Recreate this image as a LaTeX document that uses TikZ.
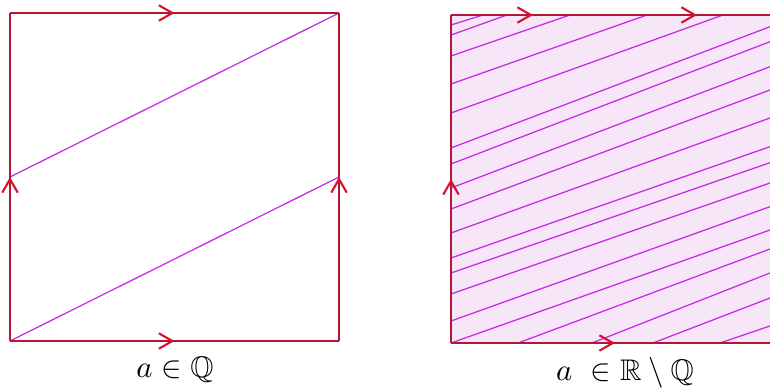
\documentclass[tikz,border=0pt]{standalone}
\usepackage{amssymb}
\usetikzlibrary{arrows.meta, decorations.markings, calc}

\definecolor{edgered}{HTML}{B01838}
\definecolor{tipred}{HTML}{D8102C}
\definecolor{flowline}{HTML}{C42EE0}
\definecolor{torusfill}{HTML}{F7E5F8}

\begin{document}
\begin{tikzpicture}[
    x=0.0125cm, y=-0.0125cm,
    edge/.style={draw=edgered, line width=0.7pt},
    flow/.style={draw=flowline, line width=0.45pt},
    barb/.style={tipred, line width=0.75pt},
    midarrow/.style={postaction={decorate}, decoration={markings,
        mark=at position 0.5 with {\arrow[barb]{Straight Barb[length=4.8pt, width=5.5pt]}}}},
    twoarrows/.style={postaction={decorate}, decoration={markings,
        mark=at position 0.25 with {\arrow[barb]{Straight Barb[length=4.8pt, width=5.5pt]}},
        mark=at position 0.75 with {\arrow[barb]{Straight Barb[length=4.8pt, width=5.5pt]}}}},
    caption/.style={anchor=base, inner sep=0pt, font=\fontsize{10.6}{13}\selectfont}
]
\useasboundingbox (0,0) rectangle (770,390);

% ---------------- rational slope ----------------
\coordinate (qsw) at (10,341);
\coordinate (qse) at (339,341);
\coordinate (qne) at (339,13);
\coordinate (qnw) at (10,13);
\coordinate (qwm) at (10,177);
\coordinate (qem) at (339,177);

\draw[flow] (qsw) -- (qem);
\draw[flow] (qwm) -- (qne);

\draw[edge, midarrow] (qsw) -- (qse);
\draw[edge, midarrow] (qnw) -- (qne);
\draw[edge, midarrow] (qsw) -- (qnw);
\draw[edge, midarrow] (qse) -- (qne);

\node[caption] (labQ) at (175,377) {$a \in \mathbb{Q}$};

% ---------------- irrational slope ----------------
\coordinate (rsw) at (451,343);
\coordinate (rse) at (779,343);
\coordinate (rne) at (779,15);
\coordinate (rnw) at (451,15);

\fill[torusfill] (rsw) rectangle (rne);

\begin{scope}
\clip (rsw) rectangle (rne);
% from the left side to the top
\foreach \ya/\xt in {25/483, 35/507, 56/570, 84/647, 113/723}
    \draw[flow] (451,\ya) -- ($(451,\ya)!1.05!(\xt,15)$);
% from the left side to the right side
\foreach \ya/\yb in {148/26.7, 164/41.7, 188/66.7, 209/90, 233/118,
                     258/146.7, 273/162.7, 294/183, 321/206.7, 343/230}
    \draw[flow] (451,\ya) -- ($(451,\ya)!1.1!(770,\yb)$);
% from the bottom to the right side
\foreach \xb/\yb in {518/249, 592/273, 653/298, 720/326}
    \draw[flow] (\xb,343) -- ($(\xb,343)!1.3!(770,\yb)$);
\end{scope}

\draw[edge, midarrow] (rsw) -- (rse);
\draw[edge, twoarrows] (rnw) -- (rne);
\draw[edge, midarrow] (rsw) -- (rnw);
\draw[edge, midarrow] (rse) -- (rne);

\node[caption] (labRQ) at (625,380) {$a\ \in \mathbb{R}\setminus\mathbb{Q}$};

\end{tikzpicture}
\end{document}
